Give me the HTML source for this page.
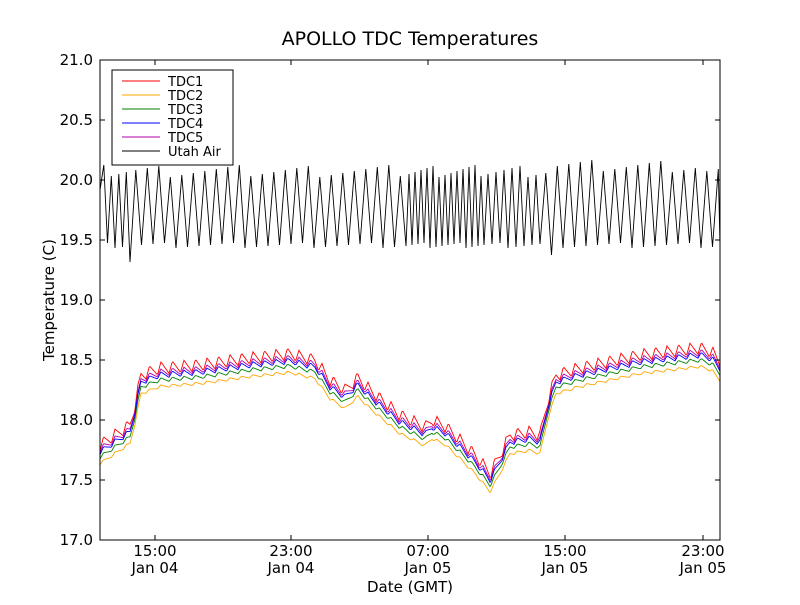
<!DOCTYPE html>
<html><head><meta charset="utf-8"><style>
body{margin:0;background:#fff;}
svg text{font-family:"DejaVu Sans","Liberation Sans",sans-serif;}
</style></head><body>
<svg id="s" width="800" height="600" xmlns="http://www.w3.org/2000/svg">
<rect width="800" height="600" fill="#fff"/>
<text x="410" y="45" font-size="19" text-anchor="middle">APOLLO TDC Temperatures</text>
<g id="plot"></g>
<rect x="100" y="60" width="620" height="480" fill="none" stroke="#000" stroke-width="1"/>
<g font-size="15" text-anchor="end">
<text x="93" y="545">17.0</text><text x="93" y="485">17.5</text><text x="93" y="425">18.0</text>
<text x="93" y="365">18.5</text><text x="93" y="305">19.0</text><text x="93" y="245">19.5</text>
<text x="93" y="185">20.0</text><text x="93" y="125">20.5</text><text x="93" y="65">21.0</text>
</g>
<g font-size="15" text-anchor="middle">
<text x="155" y="556">15:00</text><text x="155" y="573">Jan 04</text>
<text x="291" y="556">23:00</text><text x="291" y="573">Jan 04</text>
<text x="428" y="556">07:00</text><text x="428" y="573">Jan 05</text>
<text x="565" y="556">15:00</text><text x="565" y="573">Jan 05</text>
<text x="703" y="556">23:00</text><text x="703" y="573">Jan 05</text>
<text x="410" y="592">Date (GMT)</text>
</g>
<text x="54" y="300" font-size="15" text-anchor="middle" transform="rotate(-90 54 300)">Temperature (C)</text>
<g id="ticks" stroke="#000"></g>
<g font-size="13">
<rect x="112" y="70" width="121" height="95" fill="#fff" stroke="#000"/>
<line x1="122" y1="81" x2="160" y2="81" stroke="red"/><text x="168" y="86">TDC1</text>
<line x1="122" y1="95" x2="160" y2="95" stroke="orange"/><text x="168" y="100">TDC2</text>
<line x1="122" y1="109" x2="160" y2="109" stroke="green"/><text x="168" y="114">TDC3</text>
<line x1="122" y1="123" x2="160" y2="123" stroke="blue"/><text x="168" y="128">TDC4</text>
<line x1="122" y1="137" x2="160" y2="137" stroke="#b000b0"/><text x="168" y="142">TDC5</text>
<line x1="122" y1="151" x2="160" y2="151" stroke="#000"/><text x="168" y="156">Utah Air</text>
</g>
</svg>
<script>
var t=document.getElementById("ticks"),h="";
for(var i=0;i<9;i++){var y=60+i*60;h+='<line x1="100" y1="'+y+'" x2="105" y2="'+y+'"/><line x1="715" y1="'+y+'" x2="720" y2="'+y+'"/>';}
[155,291,428,565,703].forEach(function(x){h+='<line x1="'+x+'" y1="540" x2="'+x+'" y2="535"/><line x1="'+x+'" y1="60" x2="'+x+'" y2="65"/>';});
t.innerHTML=h;
var K=[[100,465],[115,455],[130,445],[135,425],[141,395],[160,388],[200,385],[250,378],[290,374],[315,380],[330,400],[345,410],[358,398],[370,410],[400,435],[425,447],[432,440],[445,446],[460,460],[475,475],[490,493],[500,475],[510,455],[530,452],[540,455],[548,420],[556,395],[580,388],[640,375],[700,368],[712,372],[720,382]];
function base(x){for(var i=1;i<K.length;i++){if(x<=K[i][0]){var a=K[i-1],b=K[i],f=(x-a[0])/(b[0]-a[0]);return a[1]+f*(b[1]-a[1]);}}return K[K.length-1][1];}
var P=11.5;
function saw(x){var p=((x-100)%P)/P;return p<0.3?p/0.3:1-(p-0.3)/0.7;}
var series=[["red",-14,12],["orange",0,3],["green",-6,4],["#b000b0",-12,7],["blue",-10,6]];
var g=document.getElementById("plot"),out="";
series.forEach(function(s){var d="";for(var x=100;x<=720;x+=1){var y=base(x)+s[1]-s[2]*saw(x);d+=(x==100?"M":"L")+x+","+y.toFixed(1);}out+='<path d="'+d+'" fill="none" stroke="'+s[0]+'" stroke-width="0.9"/>';});
var d="M100,190",x=100,k=0;
function per(x){if(x<125)return 7.5;if(x>405&&x<480)return 6;if(x>480&&x<535)return 8;return 11.5;}
while(x<720){var p=per(x);var hi=165+((k*37)%13)-(x>540&&x<700?5:0);var lo=243+((k*17)%6);
if(x>120&&x<130)lo=262; if(x>532&&x<542)lo=255;
x+=p*0.5;if(x>720)x=720;d+="L"+x.toFixed(1)+","+hi;x+=p*0.5;if(x>720)x=720;d+="L"+x.toFixed(1)+","+lo;k++;}
out+='<path d="'+d+'" fill="none" stroke="#000" stroke-width="0.9"/>';
g.innerHTML=out;
</script>
</body></html>
